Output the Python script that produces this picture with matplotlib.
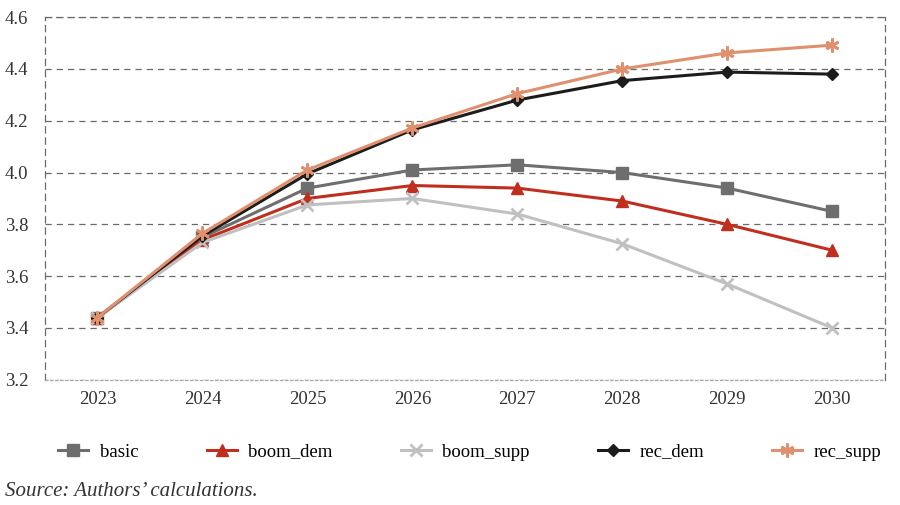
import matplotlib.pyplot as plt
import numpy as np

years = ['2023', '2024', '2025', '2026', '2027', '2028', '2029', '2030']
basic = [3.44, 3.75, 3.94, 4.01, 4.03, 4.00, 3.94, 3.85]
boom_dem = [3.44, 3.74, 3.90, 3.95, 3.94, 3.89, 3.80, 3.70]
boom_supp = [3.44, 3.73, 3.875, 3.90, 3.84, 3.725, 3.57, 3.40]
rec_dem = [3.44, 3.755, 3.995, 4.165, 4.28, 4.355, 4.388, 4.38]
rec_supp = [3.44, 3.765, 4.01, 4.172, 4.305, 4.40, 4.462, 4.492]

plt.rcParams['font.family'] = ['Liberation Serif', 'DejaVu Serif']

fig = plt.figure(figsize=(9, 5.05), dpi=100)
ax = fig.add_axes([0.05, 0.248, 0.933, 0.718])

x = np.arange(len(years))
lw = 2.2
ax.plot(x, basic, color='#6e6e6e', lw=lw, marker='s', ms=9, label='basic')
ax.plot(x, boom_dem, color='#c02e1e', lw=lw, marker='^', ms=8, label='boom_dem')
ax.plot(x, boom_supp, color='#c0c0c0', lw=lw, marker='x', ms=8, mew=2, label='boom_supp')
ax.plot(x, rec_dem, color='#1c1c1c', lw=lw, marker='D', ms=6, label='rec_dem')
ax.plot(x, rec_supp, color='#e0906e', lw=lw, marker=(6, 2, 0), ms=10, mew=2, label='rec_supp')

ax.set_xlim(-0.5, len(years) - 0.5)
ax.set_ylim(3.2, 4.6)
ax.set_xticks(x)
ax.set_xticklabels(years)
ax.set_yticks(np.arange(3.2, 4.61, 0.2))
ax.set_yticklabels([f'{v:.1f}' for v in np.arange(3.2, 4.61, 0.2)])
ax.tick_params(length=0, labelsize=13.5, colors='#333333', pad=8)
ax.tick_params(axis='y', pad=12)

ax.grid(axis='y', linestyle=(0, (5, 4)), color='#6a6a6a', lw=0.9)
for s in ['left', 'right', 'top']:
    ax.spines[s].set_linestyle((0, (5, 4)))
    ax.spines[s].set_color('#6a6a6a')
    ax.spines[s].set_linewidth(0.9)
ax.spines['bottom'].set_linestyle((0, (2, 2)))
ax.spines['bottom'].set_color('#aaaaaa')
ax.spines['bottom'].set_linewidth(0.9)

fig.legend(loc='center', bbox_to_anchor=(0.522, 0.105), ncol=5, frameon=False,
           fontsize=13.5, handlelength=1.6, columnspacing=3.65, handletextpad=0.6)
fig.text(0.006, 0.017, 'Source: Authors\u2019 calculations.', fontsize=15,
         style='italic', color='#333333')

fig.savefig('out.png', dpi=100)
